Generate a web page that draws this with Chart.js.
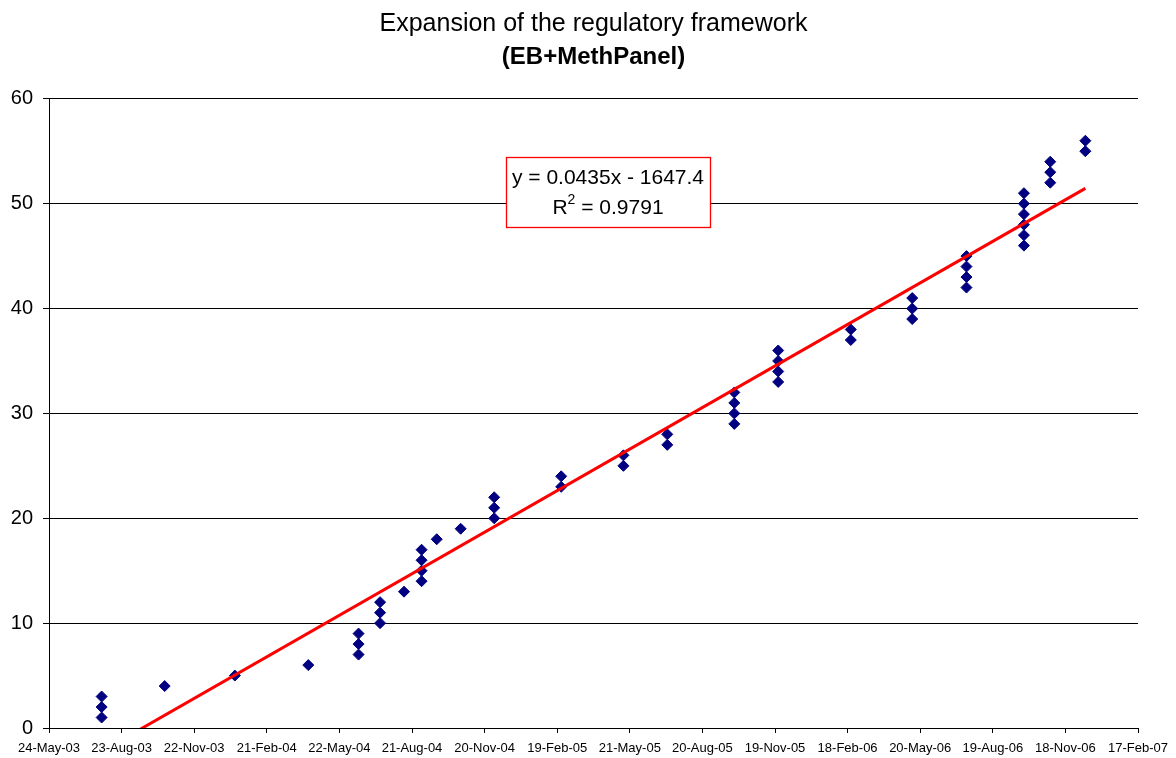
<!DOCTYPE html>
<html>
<head>
<meta charset="utf-8">
<title>Expansion of the regulatory framework</title>
<script src="https://cdn.jsdelivr.net/npm/chart.js@4/dist/chart.umd.min.js"></script>
<style>
  html, body { margin: 0; padding: 0; background: #fff; }
  canvas { display: block; }
</style>
</head>
<body>
<canvas id="chart" width="1176" height="758"></canvas>
<script>
// data: one entry per approved methodology (cumulative count on the date it was added)
const pointDates = [
  '2003-07-29', '2003-07-29', '2003-07-29',
  '2003-10-16',
  '2004-01-12',
  '2004-04-13',
  '2004-06-15', '2004-06-15', '2004-06-15',
  '2004-07-12', '2004-07-12', '2004-07-12',
  '2004-08-11',
  '2004-09-02', '2004-09-02', '2004-09-02', '2004-09-02',
  '2004-09-21',
  '2004-10-21',
  '2004-12-02', '2004-12-02', '2004-12-02',
  '2005-02-24', '2005-02-24',
  '2005-05-13', '2005-05-13',
  '2005-07-07', '2005-07-07',
  '2005-09-29', '2005-09-29', '2005-09-29', '2005-09-29',
  '2005-11-23', '2005-11-23', '2005-11-23', '2005-11-23',
  '2006-02-22', '2006-02-22',
  '2006-05-10', '2006-05-10', '2006-05-10',
  '2006-07-17', '2006-07-17', '2006-07-17', '2006-07-17',
  '2006-09-27', '2006-09-27', '2006-09-27', '2006-09-27', '2006-09-27', '2006-09-27',
  '2006-10-30', '2006-10-30', '2006-10-30',
  '2006-12-13', '2006-12-13'
];
const pointTotals = [
  1, 2, 3,
  4,
  5,
  6,
  7, 8, 9,
  10, 11, 12,
  13,
  14, 15, 16, 17,
  18,
  19,
  20, 21, 22,
  23, 24,
  25, 26,
  27, 28,
  29, 30, 31, 32,
  33, 34, 35, 36,
  37, 38,
  39, 40, 41,
  42, 43, 44, 45,
  46, 47, 48, 49, 50, 51,
  52, 53, 54,
  55, 56
];

// axes
const xStart = '2003-05-24';
const xEnd = '2007-02-17';
const xStepDays = 91;
const yMax = 60;
const yStep = 10;

// trendline label as printed on the chart
const trendEquation = 'y = 0.0435x - 1647.4';
const trendR2 = '0.9791';

const FONT = 'Arial, "Liberation Sans", sans-serif';
const MONTHS = ['Jan', 'Feb', 'Mar', 'Apr', 'May', 'Jun', 'Jul', 'Aug', 'Sep', 'Oct', 'Nov', 'Dec'];

// spreadsheet day number (same x the trendline equation uses)
const toSerial = (iso) => Math.round(Date.parse(iso + 'T00:00:00Z') / 86400000) + 25569;
const fromSerial = (s) => {
  const d = new Date((s - 25569) * 86400000);
  const yy = String(d.getUTCFullYear() % 100).padStart(2, '0');
  return d.getUTCDate() + '-' + MONTHS[d.getUTCMonth()] + '-' + yy;
};

const points = pointDates.map((d, i) => ({ x: toSerial(d), y: pointTotals[i] }));

// linear least squares trendline across the data range
const fit = (() => {
  const n = points.length;
  let sx = 0, sy = 0, sxx = 0, sxy = 0;
  points.forEach(p => { sx += p.x; sy += p.y; sxx += p.x * p.x; sxy += p.x * p.y; });
  const slope = (n * sxy - sx * sy) / (n * sxx - sx * sx);
  const icpt = (sy - slope * sx) / n;
  return { slope, icpt };
})();
const xs = points.map(p => p.x);
const trendPoints = [Math.min(...xs), Math.max(...xs)].map(x => ({ x: x, y: fit.slope * x + fit.icpt }));

// equation box drawn over the plot
const equationBox = {
  id: 'equationBox',
  afterDatasetsDraw(chart) {
    const ctx = chart.ctx;
    const left = 506, top = 157, w = 204, h = 70;
    ctx.save();
    ctx.fillStyle = '#fff';
    ctx.fillRect(left, top, w, h);
    ctx.strokeStyle = '#ff0000';
    ctx.lineWidth = 1.3;
    ctx.strokeRect(left + 0.5, top + 0.5, w, h);
    ctx.fillStyle = '#000';
    ctx.textBaseline = 'middle';
    ctx.font = '21px ' + FONT;
    ctx.textAlign = 'center';
    const cx = left + w / 2;
    ctx.fillText(trendEquation, cx, top + 21);
    // R² = ... with a raised 2
    const a = 'R', b = ' = ' + trendR2;
    ctx.font = '21px ' + FONT;
    const wa = ctx.measureText(a).width, wb = ctx.measureText(b).width;
    ctx.font = '14px ' + FONT;
    const ws = ctx.measureText('2').width;
    const x0 = cx - (wa + ws + wb) / 2;
    const y2 = top + 51;
    ctx.textAlign = 'left';
    ctx.font = '21px ' + FONT;
    ctx.fillText(a, x0, y2);
    ctx.font = '14px ' + FONT;
    ctx.fillText('2', x0 + wa, y2 - 8);
    ctx.font = '21px ' + FONT;
    ctx.fillText(b, x0 + wa + ws, y2);
    ctx.restore();
  }
};

new Chart(document.getElementById('chart'), {
  type: 'scatter',
  data: {
    datasets: [
      {
        label: 'Linear trend',
        type: 'line',
        data: trendPoints,
        borderColor: '#ff0000',
        borderWidth: 3,
        pointRadius: 0,
        fill: false
      },
      {
        label: 'Methodologies',
        data: points,
        pointStyle: 'rectRot',
        pointRadius: 5.5,
        backgroundColor: '#000080',
        borderColor: '#000080',
        borderWidth: 1
      }
    ]
  },
  options: {
    responsive: false,
    animation: false,
    layout: { padding: { left: 0, right: 38, top: 0, bottom: 0 } },
    plugins: {
      legend: { display: false },
      tooltip: { enabled: false },
      title: {
        display: true,
        fullSize: false,
        text: 'Expansion of the regulatory framework',
        color: '#000',
        font: { family: FONT, size: 25, weight: 'normal' },
        padding: { top: 9, bottom: 2 }
      },
      subtitle: {
        display: true,
        fullSize: false,
        text: '(EB+MethPanel)',
        color: '#000',
        font: { family: FONT, size: 24, weight: 'bold' },
        padding: { top: 2, bottom: 27 }
      }
    },
    scales: {
      x: {
        type: 'linear',
        min: toSerial(xStart),
        max: toSerial(xEnd),
        afterFit: (scale) => { scale.height = 30; },
        border: { display: true, color: '#000', width: 1 },
        grid: {
          drawOnChartArea: false,
          drawTicks: true,
          tickLength: 5,
          color: '#000'
        },
        ticks: {
          stepSize: xStepDays,
          autoSkip: false,
          maxRotation: 0,
          minRotation: 0,
          padding: 8,
          color: '#000',
          font: { family: FONT, size: 13 },
          callback: (v) => fromSerial(v)
        }
      },
      y: {
        min: 0,
        max: yMax,
        afterFit: (scale) => { scale.width = 49; },
        border: { display: true, color: '#000', width: 1 },
        grid: {
          color: '#000',
          lineWidth: 1,
          tickLength: 6
        },
        ticks: {
          stepSize: yStep,
          padding: 10,
          color: '#000',
          font: { family: FONT, size: 20 }
        }
      }
    }
  },
  plugins: [equationBox]
});
</script>
</body>
</html>
